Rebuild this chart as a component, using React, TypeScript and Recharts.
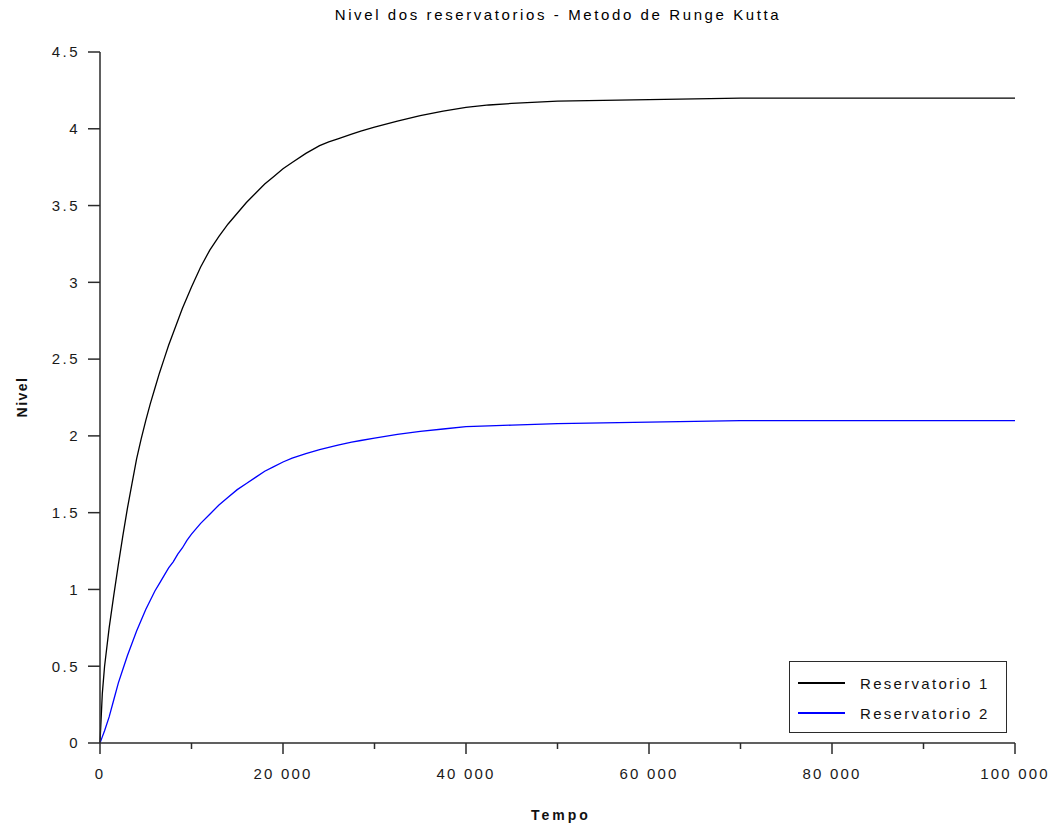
import { LineChart, Line, XAxis, YAxis, Legend } from 'recharts';

// tempo (s)
const tempo = [0, 250, 500, 1000, 1500, 2000, 2500, 3000, 3500, 4000, 4500, 5000, 5500, 6000, 6500,
    7000, 7500, 8000, 8500, 9000, 9500, 10000, 11000, 12000, 13000, 14000, 15000, 16000, 17000,
    18000, 19000, 20000, 21000, 22500, 24000, 25000, 26000, 27500, 28500, 30000, 32500, 35000,
    37500, 40000, 42500, 45000, 50000, 55000, 60000, 65000, 70000, 80000, 90000, 100000];

const nivel1 = [0, 0.32, 0.5, 0.75, 0.96, 1.16, 1.35, 1.53, 1.69, 1.85, 1.98, 2.1, 2.21, 2.31, 2.41,
    2.5, 2.59, 2.67, 2.75, 2.83, 2.9, 2.97, 3.1, 3.21, 3.3, 3.38, 3.45, 3.52, 3.58,
    3.64, 3.69, 3.74, 3.78, 3.84, 3.89, 3.915, 3.935, 3.965, 3.985, 4.01, 4.05, 4.085,
    4.115, 4.14, 4.155, 4.165, 4.18, 4.185, 4.19, 4.195, 4.2, 4.2, 4.2, 4.2];

const nivel2 = [0, 0.04, 0.08, 0.17, 0.28, 0.39, 0.48, 0.57, 0.65, 0.73, 0.8, 0.87, 0.93, 0.99, 1.04,
    1.09, 1.14, 1.18, 1.23, 1.27, 1.32, 1.36, 1.43, 1.49, 1.55, 1.6, 1.65, 1.69, 1.73,
    1.77, 1.8, 1.83, 1.855, 1.885, 1.91, 1.925, 1.94, 1.96, 1.97, 1.985, 2.01, 2.03,
    2.045, 2.06, 2.065, 2.07, 2.08, 2.085, 2.09, 2.095, 2.1, 2.1, 2.1, 2.1];

const xTicks = [0, 10000, 20000, 30000, 40000, 50000, 60000, 70000, 80000, 90000, 100000];
const yTicks = [0, 0.5, 1, 1.5, 2, 2.5, 3, 3.5, 4, 4.5];

const series = [
    { key: 'r1', name: 'Reservatorio 1', color: '#000000' },
    { key: 'r2', name: 'Reservatorio 2', color: '#0000ff' },
];

const data = tempo.map((t, i) => ({ t, r1: nivel1[i], r2: nivel2[i] }));

const FONT = '"Liberation Sans", Arial, sans-serif';
const AXIS = '#2b2b2b';

const fmt = (v: number) => String(v).replace(/\B(?=(\d{3})+(?!\d))/g, ' ');

const XTick = ({ x, y, payload }: any) => {
    const major = payload.value % 20000 === 0;
    return (
        <g>
            <line x1={x} x2={x} y1={y} y2={y + (major ? 11 : 6)} stroke={AXIS} strokeWidth={1.5} />
            {major && (
                <text x={x} y={y + 36} textAnchor="middle" fontSize={15} fill="#1a1a1a"
                    style={{ fontFamily: FONT, letterSpacing: 2.2 }}>
                    {fmt(payload.value)}
                </text>
            )}
        </g>
    );
};

const LegendBox = () => (
    <div style={{
        border: '1.5px solid #2b2b2b', background: '#fff', width: 218, height: 72,
        boxSizing: 'border-box', padding: '6px 0 0 8px', fontFamily: FONT
    }}>
        {series.map(s => (
            <div key={s.key} style={{ display: 'flex', alignItems: 'center', height: 30 }}>
                <span style={{ display: 'inline-block', width: 47, height: 2, background: s.color }} />
                <span style={{ marginLeft: 15, fontSize: 15, letterSpacing: 2.3, color: '#111' }}>{s.name}</span>
            </div>
        ))}
    </div>
);

export default function App() {
    return (
        <div style={{ position: 'absolute', left: 0, top: 0, width: 1058, height: 827, background: '#fff' }}>
            <div style={{
                position: 'absolute', top: 6, left: 0, width: 1116, textAlign: 'center',
                fontFamily: FONT, fontSize: 15, letterSpacing: 2.6, color: '#000'
            }}>
                Nivel dos reservatorios - Metodo de Runge Kutta
            </div>
            <div style={{
                position: 'absolute', left: 22, top: 397, transform: 'translate(-50%, -50%) rotate(-90deg)',
                fontFamily: FONT, fontSize: 14, fontWeight: 'bold', letterSpacing: 1.5, color: '#111'
            }}>
                Nivel
            </div>
            <div style={{
                position: 'absolute', left: 561, top: 815, transform: 'translate(-50%, -50%)',
                fontFamily: FONT, fontSize: 14, fontWeight: 'bold', letterSpacing: 3, color: '#111'
            }}>
                Tempo
            </div>
            <LineChart width={1058} height={827} data={data}
                margin={{ top: 52, right: 43, bottom: 34, left: 40 }}>
                <XAxis dataKey="t" type="number" domain={[0, 100000]} ticks={xTicks} interval={0}
                    height={50} tickSize={0} tickMargin={0} tick={<XTick />}
                    axisLine={{ stroke: AXIS, strokeWidth: 1.5 }} />
                <YAxis type="number" domain={[0, 4.5]} ticks={yTicks} interval={0} width={60}
                    tickSize={12} tickMargin={8}
                    tick={{ fill: '#1a1a1a', fontSize: 15, fontFamily: FONT, letterSpacing: 2.5 }}
                    tickLine={{ stroke: AXIS, strokeWidth: 1.5 }}
                    axisLine={{ stroke: AXIS, strokeWidth: 1.5 }} />
                {series.map(s => (
                    <Line key={s.key} type="linear" dataKey={s.key} name={s.name} stroke={s.color}
                        strokeWidth={1.3} dot={false} isAnimationActive={false} />
                ))}
                <Legend layout="vertical" align="center" verticalAlign="middle" content={<LegendBox />}
                    wrapperStyle={{ left: 789, top: 661, width: 218, height: 72 }} />
            </LineChart>
        </div>
    );
}
